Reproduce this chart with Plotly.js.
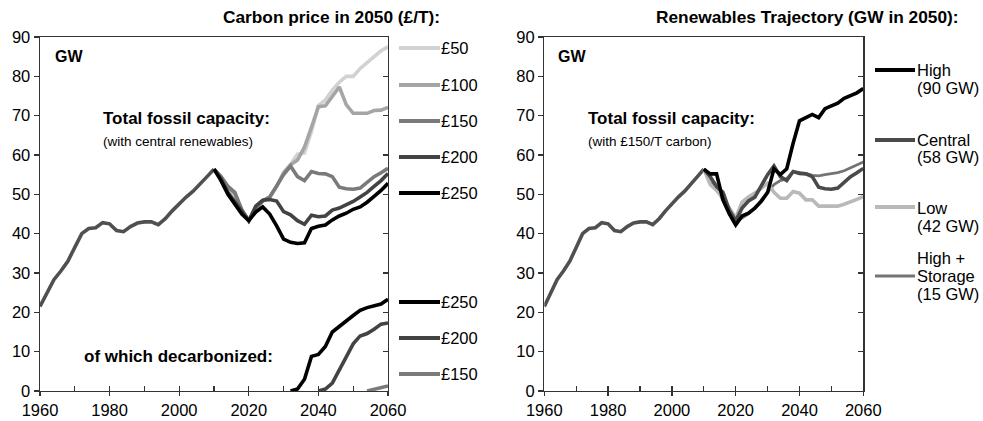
<!DOCTYPE html>
<html>
<head>
<meta charset="utf-8">
<script src="https://cdn.plot.ly/plotly-3.0.1.min.js"></script>
<style>html,body{margin:0;padding:0;background:#fff;}#chart{width:983px;height:421px;}</style>
</head>
<body>
<div id="chart"></div>
<script>
// ---------- DATA ----------
const histYears = [1960,1962,1964,1966,1968,1970,1972,1974,1976,1978,1980,1982,1984,1986,1988,1990,1992,1994,1996,1998,2000,2002,2004,2006,2008,2010];
const history = [21.5,25,28.3,30.5,33,36.5,40,41.3,41.5,42.8,42.5,40.8,40.5,41.8,42.7,43,43,42.3,43.8,45.8,47.7,49.3,50.8,52.5,54.5,56.4];

const futureYears = [2010,2012,2014,2016,2018,2020,2022,2024,2026,2028,2030,2032,2034,2036,2038,2040,2042,2044,2046,2048,2050,2052,2054,2056,2058,2060];

// Left panel: total fossil capacity by carbon price (central renewables)
const price50  = [56.4,54.5,52,50,46,43.3,46.5,48.3,49.3,52,55.5,57.6,60.2,60.5,66,72.5,74,76.5,78.5,80,80,82,83.5,85,86.5,87.5];
const price100 = [56.4,54.5,52,50,46,43.3,46.5,48.3,49.3,52,55.5,57.5,58.7,62,67,72.3,72.5,75,77.3,72.8,70.6,70.6,70.6,71.3,71.4,72.1];
const price150 = [56.4,54.5,52,50.5,46,43.3,46.5,48.3,49.3,52,55,57.2,54.5,53.5,55.8,55.3,55.2,54.5,51.8,51.4,51.3,51.6,53,54.5,55.5,56.6];
const price200 = [56.4,54,50.5,48,45.5,43.3,47,48.5,48.7,48.3,45.6,44.8,43.3,42.4,44.7,44.3,44.5,46,46.5,47.3,48.2,49.3,50.5,52,53.5,55.3];
const price250 = [56.4,53.5,50,47.5,45,43.3,45.5,46.8,45,42,38.6,37.8,37.5,37.7,41.3,41.9,42.2,43.5,44.5,45.2,46.2,46.8,48,49.5,51,52.8];

// Left panel: of which decarbonized
const decarb250 = [null,null,null,null,null,null,null,null,null,null,null,0,0.5,3,8.8,9.3,11.3,15,16.3,17.8,19.2,20.5,21.2,21.6,22.1,23.3];
const decarb200 = [null,null,null,null,null,null,null,null,null,null,null,null,null,null,null,0,0.5,2,5.5,8.5,12,14,14.6,15.7,17,17.3];
const decarb150 = [null,null,null,null,null,null,null,null,null,null,null,null,null,null,null,null,null,null,null,null,null,null,0,0.4,0.9,1.3];

// Right panel: renewables trajectory (with GBP150/T carbon)
const renHigh    = [56.4,55.2,55.2,48.6,45,42.2,44.5,45.2,46.5,48.2,50.5,56.5,55,56.5,63,68.7,69.5,70.3,69.5,71.8,72.5,73.2,74.4,75,75.8,76.9];
const renCentral = price150;
const renLow     = [56.4,52.5,51,49,46.5,44,48,49.3,50.3,51.7,52.8,50.5,49,49,50.7,50.3,48.6,48.6,47,47,47,47,47.5,48,48.7,49.4];
const renStorage = [56.4,53,51.5,48.5,45.5,43.3,44,45,46.5,48.5,50.5,52.5,53.5,54,55.8,55.5,55.3,54.8,54.7,55,55.3,55.5,56,56.7,57.3,58.2];

const xTickVals = [1960,1970,1980,1990,2000,2010,2020,2030,2040,2050,2060];
const xTickText = ["1960","","1980","","2000","","2020","","2040","","2060"];
const xMajorVals = [1960,1980,2000,2020,2040,2060];

const leftTitle = "Carbon price in 2050 (£/T):";
const rightTitle = "Renewables Trajectory (GW in 2050):";
const priceLabels = ["£50","£100","£150","£200","£250"];
const decarbLabels = ["£250","£200","£150"];
const renLabels = [["High","(90 GW)"],["Central","(58 GW)"],["Low","(42 GW)"],["High +","Storage","(15 GW)"]];

// ---------- STYLE ----------
const W = 983, H = 421;
const FONT = "Liberation Sans, Arial, sans-serif";
const C50 = "#d2d2d2", C100 = "#a5a5a5", C150 = "#7a7a7a", C200 = "#434343", C250 = "#000000", CHIST = "#505050";
const CHIGH = "#000000", CCEN = "#4a4a4a", CLOW = "#b9b9b9", CSTO = "#747474";
const LW = 3.6;

function line(x, y, color, xa, ya, w) {
  return {x: x, y: y, type: "scatter", mode: "lines", xaxis: xa, yaxis: ya,
          line: {color: color, width: w || LW}, hoverinfo: "skip", showlegend: false};
}
function empty(xa, ya) { return {x: [], y: [], type: "scatter", xaxis: xa, yaxis: ya, showlegend: false}; }

const traces = [
  line(histYears, history, CHIST, "x", "y"),
  line(futureYears, price50, C50, "x", "y"),
  line(futureYears, price100, C100, "x", "y"),
  line(futureYears, price150, C150, "x", "y"),
  line(futureYears, price200, C200, "x", "y"),
  line(futureYears, price250, C250, "x", "y"),
  line(futureYears, decarb150, C150, "x", "y"),
  line(futureYears, decarb200, C200, "x", "y"),
  line(futureYears, decarb250, C250, "x", "y"),
  line(histYears, history, CHIST, "x2", "y2"),
  line(futureYears, renStorage, CSTO, "x2", "y2", 2.8),
  line(futureYears, renLow, CLOW, "x2", "y2"),
  line(futureYears, renCentral, CCEN, "x2", "y2"),
  line(futureYears, renHigh, CHIGH, "x2", "y2"),
  empty("x", "y3"), empty("x2", "y4"), empty("x3", "y"), empty("x4", "y2")
];

const px = v => v / W;
const py = v => 1 - v / H;
const yDom = [py(391), py(37)];
const axisCommon = {showgrid: false, zeroline: false, showline: true, linecolor: "#333", linewidth: 1.4,
                    tickcolor: "#333", tickwidth: 1.3, ticklen: 5, fixedrange: true,
                    tickfont: {family: FONT, size: 16.5, color: "#000"}};

function xAxis(dom, anchor) {
  return Object.assign({}, axisCommon, {domain: dom, anchor: anchor, range: [1960, 2060], tickmode: "array",
    tickvals: xTickVals, ticktext: xTickText, ticks: "inside", mirror: true, ticklabelstandoff: 4});
}
function xMajor(over, anchor) {
  return Object.assign({}, axisCommon, {overlaying: over, anchor: anchor, side: "bottom", range: [1960, 2060],
    tickmode: "array", tickvals: xMajorVals, ticks: "outside", ticklen: 4, showticklabels: false, showline: false});
}
function yAxis(anchor) {
  return Object.assign({}, axisCommon, {domain: yDom, anchor: anchor, range: [0, 90], dtick: 10, tick0: 0,
    ticks: "outside"});
}
function yRight(over, anchor) {
  return Object.assign({}, axisCommon, {overlaying: over, anchor: anchor, side: "right", range: [0, 90], dtick: 10,
    tick0: 0, ticks: "inside", showticklabels: false});
}

const annotations = [];
const shapes = [];
function txt(x, y, text, size, bold, anchor) {
  annotations.push({xref: "paper", yref: "paper", x: px(x), y: py(y), text: bold ? "<b>" + text + "</b>" : text,
    showarrow: false, xanchor: anchor || "left", yanchor: "middle",
    font: {family: FONT, size: size, color: "#000"}});
}
function sample(x0, x1, y, color, w) {
  shapes.push({type: "line", xref: "paper", yref: "paper", x0: px(x0), x1: px(x1), y0: py(y), y1: py(y),
    line: {color: color, width: w || 4}});
}

// titles
txt(442, 17, leftTitle, 17.3, true, "right");
txt(961, 17, rightTitle, 17.3, true, "right");
// in-plot labels
txt(53, 56, "GW", 16, true);
txt(556, 56, "GW", 16, true);
txt(101, 118, "Total fossil capacity:", 17, true);
txt(101, 141, "(with central renewables)", 13.5, false);
txt(82, 356, "of which decarbonized:", 17, true);
txt(586, 118, "Total fossil capacity:", 17, true);
txt(586, 141, "(with £150/T carbon)", 13.5, false);

// left legends
const priceColors = [C50, C100, C150, C200, C250];
const priceRows = [48, 85, 121, 157, 193];
priceLabels.forEach((t, i) => { sample(399, 440, priceRows[i], priceColors[i]); txt(439, priceRows[i], t, 16.5, false); });
const decarbColors = [C250, C200, C150];
const decarbRows = [302, 338, 374];
decarbLabels.forEach((t, i) => { sample(399, 440, decarbRows[i], decarbColors[i]); txt(439, decarbRows[i], t, 16.5, false); });

// right legend
const renColors = [CHIGH, CCEN, CLOW, CSTO];
const renLineRows = [70, 140, 207, 276];
const renTextRows = [[70, 88], [140, 157], [207.5, 225.5], [258, 276, 294]];
renLabels.forEach((lines, i) => {
  sample(875, 915, renLineRows[i], renColors[i], i === 3 ? 3.2 : 4);
  lines.forEach((t, j) => txt(915, renTextRows[i][j], t, 16.5, false));
});

const layout = {
  width: W, height: H, margin: {l: 0, r: 0, t: 0, b: 0}, paper_bgcolor: "#fff", plot_bgcolor: "rgba(0,0,0,0)",
  showlegend: false, font: {family: FONT, color: "#000"},
  xaxis: xAxis([px(40), px(388)], "y"),
  yaxis: yAxis("x"),
  yaxis3: yRight("y", "x"),
  xaxis3: xMajor("x", "y"),
  xaxis2: xAxis([px(544.3), px(863.3)], "y2"),
  yaxis2: yAxis("x2"),
  yaxis4: yRight("y2", "x2"),
  xaxis4: xMajor("x2", "y2"),
  annotations: annotations, shapes: shapes
};

Plotly.newPlot("chart", traces, layout, {staticPlot: true, displayModeBar: false});
</script>
</body>
</html>
